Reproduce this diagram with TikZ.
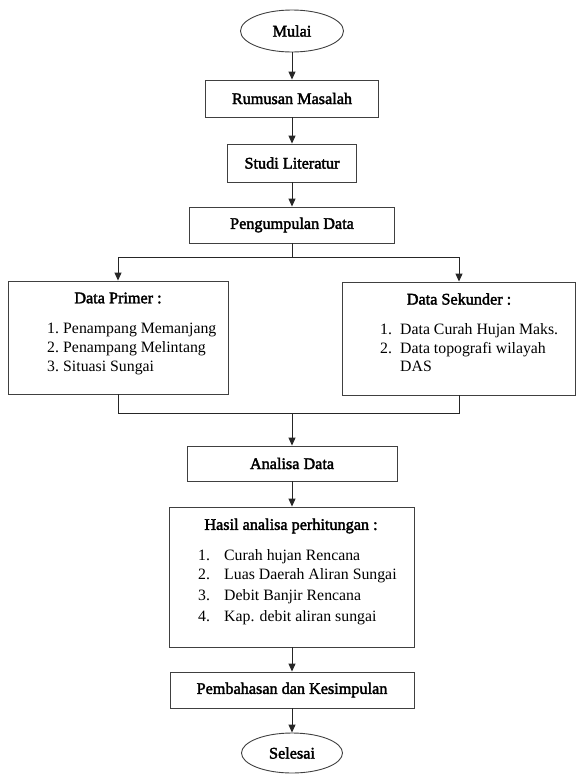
\documentclass[tikz,border=0pt]{standalone}
\usepackage{fontspec}
\setmainfont{Liberation Serif}
\newfontfamily\titlefont[FakeBold=2.2]{Liberation Serif}
\usetikzlibrary{shapes.geometric,arrows.meta}
\begin{document}
\begin{tikzpicture}[x=1pt,y=-1pt,
  box/.style={draw=black!75,line width=0.9pt,rectangle,inner sep=0pt},
  oval/.style={draw=black!75,line width=0.9pt,ellipse,inner sep=0pt,font=\titlefont\fontsize{16.2}{19}\selectfont},
  ttl/.style={font=\titlefont\fontsize{16.2}{19}\selectfont,inner sep=0pt},
  itm/.style={font=\fontsize{15.8}{19}\selectfont,inner sep=0pt,anchor=mid west},
  line/.style={draw=black!85,line width=1pt},
  arr/.style={line,-{Triangle[length=8pt,width=7pt]}}]
\useasboundingbox (0,0) rectangle (576,774);
% main column
\node[oval,minimum width=103pt,minimum height=42pt] (mulai) at (292,31) {Mulai};
\node[box,minimum width=173pt,minimum height=37pt,ttl] (rumusan) at (292,98.5) {Rumusan Masalah};
\node[box,minimum width=129pt,minimum height=38pt,ttl] (studi) at (292,163) {Studi Literatur};
\node[box,minimum width=205pt,minimum height=36pt,ttl] (kumpul) at (292,225) {Pengumpulan Data};
% data primer
\node[box,minimum width=220pt,minimum height=113pt] (primer) at (118,337.5) {};
\node[ttl] (primerT) at (118,298) {Data Primer :};
\node[itm] (p1n) at (47,331) {1.};
\node[itm] (p1) at (63,331) {Penampang Memanjang};
\node[itm] (p2n) at (47,350) {2.};
\node[itm] (p2) at (63,350) {Penampang Melintang};
\node[itm] (p3n) at (47,369) {3.};
\node[itm] (p3) at (63,369) {Situasi Sungai};
% data sekunder
\node[box,minimum width=233pt,minimum height=113pt] (sekunder) at (459,338.5) {};
\node[ttl] (sekT) at (459,299) {Data Sekunder :};
\node[itm] (s1n) at (380,332) {1.};
\node[itm] (s1) at (400,332) {Data Curah Hujan Maks.};
\node[itm] (s2n) at (380,351) {2.};
\node[itm] (s2) at (400,351) {Data topografi wilayah};
\node[itm] (s3) at (400,369) {DAS};
% analisa
\node[box,minimum width=210pt,minimum height=35pt,ttl] (analisa) at (292,463.5) {Analisa Data};
\node[box,minimum width=245pt,minimum height=140pt] (hasil) at (292,577) {};
\node[ttl] (hasilT) at (291,526) {Hasil analisa perhitungan :};
\node[itm] (h1n) at (198,558) {1.};
\node[itm] (h1) at (224,558) {Curah hujan Rencana};
\node[itm] (h2n) at (198,577) {2.};
\node[itm] (h2) at (224,577) {Luas Daerah Aliran Sungai};
\node[itm] (h3n) at (198,598) {3.};
\node[itm] (h3) at (224,598) {Debit Banjir Rencana};
\node[itm] (h4n) at (198,619) {4.};
\node[itm] (h4) at (224,619) {Kap. debit aliran sungai};
\node[box,minimum width=244pt,minimum height=36pt,ttl] (bahas) at (292,690) {Pembahasan dan Kesimpulan};
\node[oval,minimum width=101pt,minimum height=40pt] (selesai) at (292,753) {Selesai};
% connectors
\coordinate (sp) at (292,257);
\coordinate (jn) at (292,413);
\draw[arr] (mulai) -- (rumusan);
\draw[arr] (rumusan) -- (studi);
\draw[arr] (studi) -- (kumpul);
\draw[line] (kumpul) -- (sp);
\draw[arr] (sp) -| (primer.north);
\draw[arr] (sp) -| (sekunder.north);
\draw[line] (primer.south) |- (jn);
\draw[line] (sekunder.south) |- (jn);
\draw[arr] (jn) -- (analisa);
\draw[arr] (analisa) -- (hasil);
\draw[arr] (hasil) -- (bahas);
\draw[arr] (bahas) -- (selesai);
\end{tikzpicture}
\end{document}
